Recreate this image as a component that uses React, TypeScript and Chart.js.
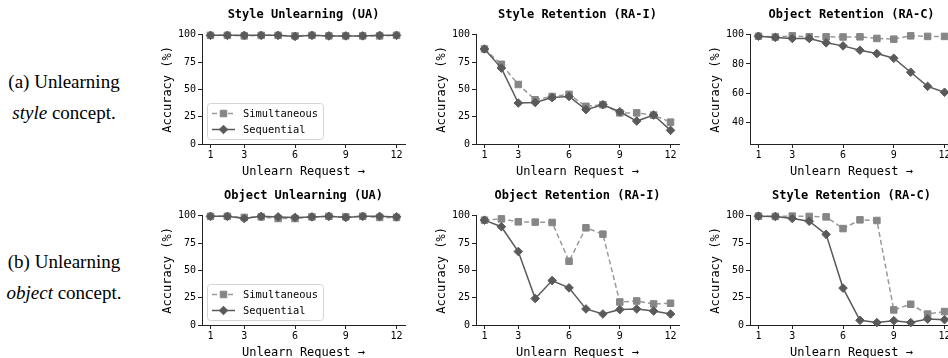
import React, { useEffect, useRef } from "react";
import { Chart, registerables } from "chart.js";

Chart.register(...registerables);

// ---------- data ----------
const requests = [1, 2, 3, 4, 5, 6, 7, 8, 9, 10, 11, 12];
const xTicks = [1, 3, 6, 9, 12];
const accTicks = [0, 25, 50, 75, 100];
const styleRACTicks = [40, 60, 80, 100];
const seriesLabels = ["Simultaneous", "Sequential"];
const xTitle = "Unlearn Request \u2192";
const yTitle = "Accuracy (%)";

const styleUA_sim = [99.5, 99.5, 99, 99.5, 99.5, 99, 99.5, 99, 99, 99, 99, 99.5];
const styleUA_seq = [99.5, 99.5, 99.5, 99.5, 99.5, 98.5, 99.5, 99, 99, 99, 99.5, 99.5];
const styleRAI_sim = [87, 73, 54.5, 40.5, 43.5, 45.5, 34.5, 36, 28.5, 28.5, 26.5, 20];
const styleRAI_seq = [87, 69.5, 37.5, 38, 42.5, 43.5, 31.5, 36, 29.5, 21, 26.5, 12.5];
const styleRAC_sim = [99, 98.5, 99.3, 98.6, 98.6, 98.5, 98.6, 97.5, 97, 99.3, 98.9, 98.9];
const styleRAC_seq = [99, 98.2, 97.5, 97.5, 94.5, 92.4, 89.4, 87.1, 83.9, 74.3, 64.6, 60.5];
const objUA_sim = [99.5, 99.5, 98.5, 99, 97.5, 97.5, 99, 99.5, 99, 99.5, 98.5, 98.5];
const objUA_seq = [99.5, 99.5, 97.5, 99.5, 99, 98.5, 99, 99.5, 98.5, 99.5, 99.5, 99];
const objRAI_sim = [96, 97.2, 94.5, 94.2, 93.9, 58.4, 89, 83.2, 21.1, 22, 19.3, 19.9];
const objRAI_seq = [96, 90, 67.3, 24.2, 40.7, 34, 14.7, 10.1, 14.1, 14.7, 12.8, 10.1];
const objRAC_sim = [99.7, 99.4, 99.7, 99.4, 99, 88.3, 96.3, 95.7, 13.8, 19, 10, 12.3];
const objRAC_seq = [99.7, 99.4, 97.5, 95, 83, 33.8, 4.3, 2.2, 4, 2.2, 5.5, 4.9];

// ---------- style ----------
const MONO = '"DejaVu Sans Mono", monospace';
const SERIF = '"Liberation Serif", "Times New Roman", serif';
const SIM_LINE = "#9a9a9a";
const SIM_MARK = "#868686";
const SEQ_COLOR = "#5a5a5a";
const AXIS = "#222";

type Panel = {
  title: string;
  sim: number[];
  seq: number[];
  yMin: number;
  yMax: number;
  yTicks: number[];
  legend: boolean;
  left: number;
  top: number;
};

const COL_LEFT = [157, 431, 705];
const ROW_TOP = [0, 181];

const panels: Panel[] = [
  { title: "Style Unlearning (UA)", sim: styleUA_sim, seq: styleUA_seq, yMin: 0, yMax: 100, yTicks: accTicks, legend: true, left: COL_LEFT[0], top: ROW_TOP[0] },
  { title: "Style Retention (RA-I)", sim: styleRAI_sim, seq: styleRAI_seq, yMin: 0, yMax: 100, yTicks: accTicks, legend: false, left: COL_LEFT[1], top: ROW_TOP[0] },
  { title: "Object Retention (RA-C)", sim: styleRAC_sim, seq: styleRAC_seq, yMin: 25, yMax: 100, yTicks: styleRACTicks, legend: false, left: COL_LEFT[2], top: ROW_TOP[0] },
  { title: "Object Unlearning (UA)", sim: objUA_sim, seq: objUA_seq, yMin: 0, yMax: 100, yTicks: accTicks, legend: true, left: COL_LEFT[0], top: ROW_TOP[1] },
  { title: "Object Retention (RA-I)", sim: objRAI_sim, seq: objRAI_seq, yMin: 0, yMax: 100, yTicks: accTicks, legend: false, left: COL_LEFT[1], top: ROW_TOP[1] },
  { title: "Style Retention (RA-C)", sim: objRAC_sim, seq: objRAC_seq, yMin: 0, yMax: 100, yTicks: accTicks, legend: false, left: COL_LEFT[2], top: ROW_TOP[1] },
];

const CANVAS_W = 260;
const CANVAS_H = 179;

function drawMarker(ctx: CanvasRenderingContext2D, style: string, x: number, y: number, r: number, color: string) {
  ctx.save();
  ctx.setLineDash([]);
  ctx.fillStyle = color;
  ctx.strokeStyle = color;
  ctx.lineWidth = 1;
  ctx.beginPath();
  if (style === "rectRot") {
    ctx.moveTo(x, y - r);
    ctx.lineTo(x + r, y);
    ctx.lineTo(x, y + r);
    ctx.lineTo(x - r, y);
    ctx.closePath();
  } else {
    const s = r * Math.SQRT1_2;
    ctx.rect(x - s, y - s, 2 * s, 2 * s);
  }
  ctx.fill();
  ctx.stroke();
  ctx.restore();
}

const insetLegend = {
  id: "insetLegend",
  afterDatasetsDraw(chart: any, _args: any, opts: any) {
    if (!opts || !opts.show) return;
    const ctx: CanvasRenderingContext2D = chart.ctx;
    const area = chart.chartArea;
    const w = 116;
    const h = 36;
    const x0 = area.left + 5;
    const y0 = area.bottom - 5 - h;
    ctx.save();
    ctx.beginPath();
    (ctx as any).roundRect(x0 + 0.5, y0 + 0.5, w, h, 3);
    ctx.fillStyle = "rgba(255,255,255,0.85)";
    ctx.fill();
    ctx.strokeStyle = "#d4d4d4";
    ctx.lineWidth = 1;
    ctx.stroke();
    const ds = chart.data.datasets;
    ds.forEach((d: any, i: number) => {
      const cy = y0 + 10.5 + i * 16;
      ctx.save();
      ctx.strokeStyle = d.borderColor;
      ctx.lineWidth = d.borderWidth;
      ctx.setLineDash(d.borderDash || []);
      ctx.beginPath();
      ctx.moveTo(x0 + 5, cy);
      ctx.lineTo(x0 + 28, cy);
      ctx.stroke();
      ctx.restore();
      drawMarker(ctx, d.pointStyle, x0 + 16.5, cy, d.pointRadius, d.pointBackgroundColor);
      ctx.fillStyle = "#000";
      ctx.font = `10.4px ${MONO}`;
      ctx.textBaseline = "middle";
      ctx.textAlign = "left";
      ctx.fillText(d.label, x0 + 36, cy + 0.5);
    });
    ctx.restore();
  },
};

function PanelChart({ p }: { p: Panel }) {
  const ref = useRef<HTMLCanvasElement | null>(null);
  useEffect(() => {
    if (!ref.current) return;
    const chart = new Chart(ref.current, {
      type: "line",
      data: {
        datasets: [
          {
            label: seriesLabels[0],
            data: requests.map((x, i) => ({ x, y: p.sim[i] })),
            borderColor: SIM_LINE,
            borderWidth: 1.5,
            borderDash: [5, 3],
            pointStyle: "rect",
            pointRadius: 4.6,
            pointBackgroundColor: SIM_MARK,
            pointBorderColor: SIM_MARK,
            pointBorderWidth: 1,
            order: 1,
            clip: false,
          } as any,
          {
            label: seriesLabels[1],
            data: requests.map((x, i) => ({ x, y: p.seq[i] })),
            borderColor: SEQ_COLOR,
            borderWidth: 1.5,
            pointStyle: "rectRot",
            pointRadius: 4.3,
            pointBackgroundColor: SEQ_COLOR,
            pointBorderColor: SEQ_COLOR,
            pointBorderWidth: 1,
            order: 0,
            clip: false,
          } as any,
        ],
      },
      options: {
        animation: false,
        responsive: false,
        devicePixelRatio: 1,
        layout: { padding: { top: 0, right: 12, bottom: 0, left: 0 } },
        plugins: {
          legend: { display: false },
          tooltip: { enabled: false },
          title: {
            display: true,
            text: p.title,
            fullSize: false,
            color: "#000",
            font: { family: MONO, size: 12, weight: "bold" },
            padding: { top: 7.6, bottom: 12.8 },
          },
          insetLegend: { show: p.legend },
        } as any,
        scales: {
          x: {
            type: "linear",
            min: 0.5,
            max: 12.5,
            afterBuildTicks: (s: any) => {
              s.ticks = xTicks.map((v) => ({ value: v }));
            },
            afterFit: (s: any) => {
              s.height = 35;
            },
            grid: { drawOnChartArea: false, drawTicks: true, tickLength: 4, color: AXIS },
            border: { display: true, color: AXIS, width: 1 },
            ticks: { font: { family: MONO, size: 10 }, color: "#000", padding: 1, maxRotation: 0, autoSkip: false },
            title: { display: true, text: xTitle, color: "#000", font: { family: MONO, size: 12 }, padding: 0 },
          },
          y: {
            type: "linear",
            min: p.yMin,
            max: p.yMax,
            afterBuildTicks: (s: any) => {
              s.ticks = p.yTicks.map((v) => ({ value: v }));
            },
            afterFit: (s: any) => {
              s.width = 45;
            },
            grid: { drawOnChartArea: false, drawTicks: true, tickLength: 4, color: AXIS },
            border: { display: true, color: AXIS, width: 1 },
            ticks: { font: { family: MONO, size: 10 }, color: "#000", padding: 2 },
            title: { display: true, text: yTitle, color: "#000", font: { family: MONO, size: 12 }, padding: { top: 4, bottom: 0 } },
          },
        } as any,
      },
      plugins: [insetLegend],
    });
    return () => chart.destroy();
  }, [p]);
  return (
    <canvas
      ref={ref}
      width={CANVAS_W}
      height={CANVAS_H}
      style={{ position: "absolute", left: p.left, top: p.top, width: CANVAS_W, height: CANVAS_H }}
    />
  );
}

export default function App() {
  const labelStyle: React.CSSProperties = {
    position: "absolute",
    left: 0,
    width: 128,
    textAlign: "center",
    fontFamily: SERIF,
    fontSize: 19,
    lineHeight: "31px",
    color: "#000",
    whiteSpace: "nowrap",
  };
  return (
    <div style={{ position: "absolute", left: 0, top: 0, width: 948, height: 358, overflow: "hidden", background: "#fff" }}>
      <div style={{ ...labelStyle, top: 66 }}>
        <div>(a) Unlearning</div>
        <div>
          <i>style</i> concept.
        </div>
      </div>
      <div style={{ ...labelStyle, top: 246 }}>
        <div>(b) Unlearning</div>
        <div>
          <i>object</i> concept.
        </div>
      </div>
      {panels.map((p, i) => (
        <PanelChart key={i} p={p} />
      ))}
    </div>
  );
}
